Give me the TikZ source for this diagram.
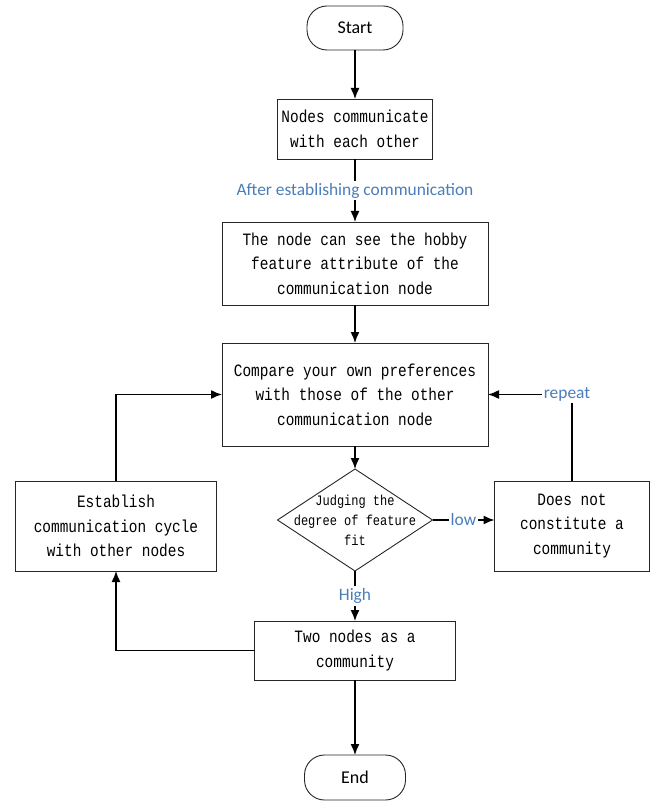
\documentclass[tikz,border=0pt]{standalone}
\usepackage{xcolor}
\usepackage{fontspec}
\usepackage{tikz}
\usetikzlibrary{shapes,arrows.meta,positioning,calc}
\newfontfamily\boxfont{Liberation Mono}[FakeStretch=0.833]
\newfontfamily\tagfont{Carlito}
\definecolor{tagblue}{RGB}{74,126,187}

\begin{document}
\begin{tikzpicture}[x=1pt, y=1pt, node distance=1cm, >={Latex[length=11pt,width=9pt]}]
\tikzset{
block/.style    = {draw=black!85, line width=0.9pt, shape=rectangle, fill=white, inner sep=0pt, outer sep=0pt, align=center, font=\boxfont\fontsize{17.3}{24.5}\selectfont},
terminal/.style = {draw=black!85, line width=0.9pt, rounded corners=20pt, inner sep=0pt, outer sep=0pt, font=\tagfont\fontsize{18}{22}\selectfont},
decision/.style = {draw=black!85, line width=0.9pt, shape=diamond, shape aspect=1.5, inner sep=-14pt, outer sep=0pt, minimum width=155pt, minimum height=102pt, align=center, font=\boxfont\fontsize{14.4}{20}\selectfont},
tag/.style      = {fill=white, inner sep=2pt, text=tagblue, font=\tagfont\fontsize{17.4}{20}\selectfont},
line/.style     = {draw, line width=1.4pt, ->},
}
    \useasboundingbox (0,0) rectangle (656,-802);

    % Main column
    \node [terminal, minimum width=96pt, minimum height=44pt]                   (start)     at (355,-28) {Start};
    \node [block, minimum width=155pt, minimum height=60pt, below=49pt of start] (communicate) {Nodes communicate\\with each other};
    \node [block, minimum width=266pt, minimum height=83pt, below=63pt of communicate] (hobby) {The node can see the hobby\\feature attribute of the\\communication node};
    \node [block, minimum width=266pt, minimum height=103pt, below=38pt of hobby] (compare) {Compare your own preferences\\with those of the other\\communication node};
    \node [decision, below=23pt of compare]                                     (judge)     {Judging the\\degree of feature\\fit};
    \node [block, minimum width=201pt, minimum height=59pt, below=50pt of judge] (community) {Two nodes as a\\community};
    \node [terminal, minimum width=101pt, minimum height=45pt, below=75pt of community] (end) {End};

    % Side nodes
    \node [block, minimum width=155pt, minimum height=90pt, right=62pt of judge, yshift=-6pt] (nocommunity) {Does not\\constitute a\\community};
    \node [block, minimum width=201pt, minimum height=90pt, left=61pt of judge, yshift=-6pt]  (cycle)       {Establish\\communication cycle\\with other nodes};

    % Main edges
    \draw [line]  (start)       --  (communicate);
    \draw [line]  (communicate) --  node [tag] {After establishing communication} (hobby);
    \draw [line]  (hobby)       --  (compare);
    \draw [line]  (compare)     --  (judge);
    \draw [line]  (judge)       --  node [tag] {High} (community);
    \draw [line]  (community)   --  (end);

    % Side edges
    \draw [line]  (judge.east)  --  node [tag] {low} (judge.east -| nocommunity.west);
    \draw [line]  (nocommunity.north) |- node [tag, pos=0.5, xshift=-5pt] {repeat} (compare.east);
    \draw [line]  (community.west)    -| (cycle.south);
    \draw [line]  (cycle.north)       |- (compare.west);

\end{tikzpicture}
\end{document}
